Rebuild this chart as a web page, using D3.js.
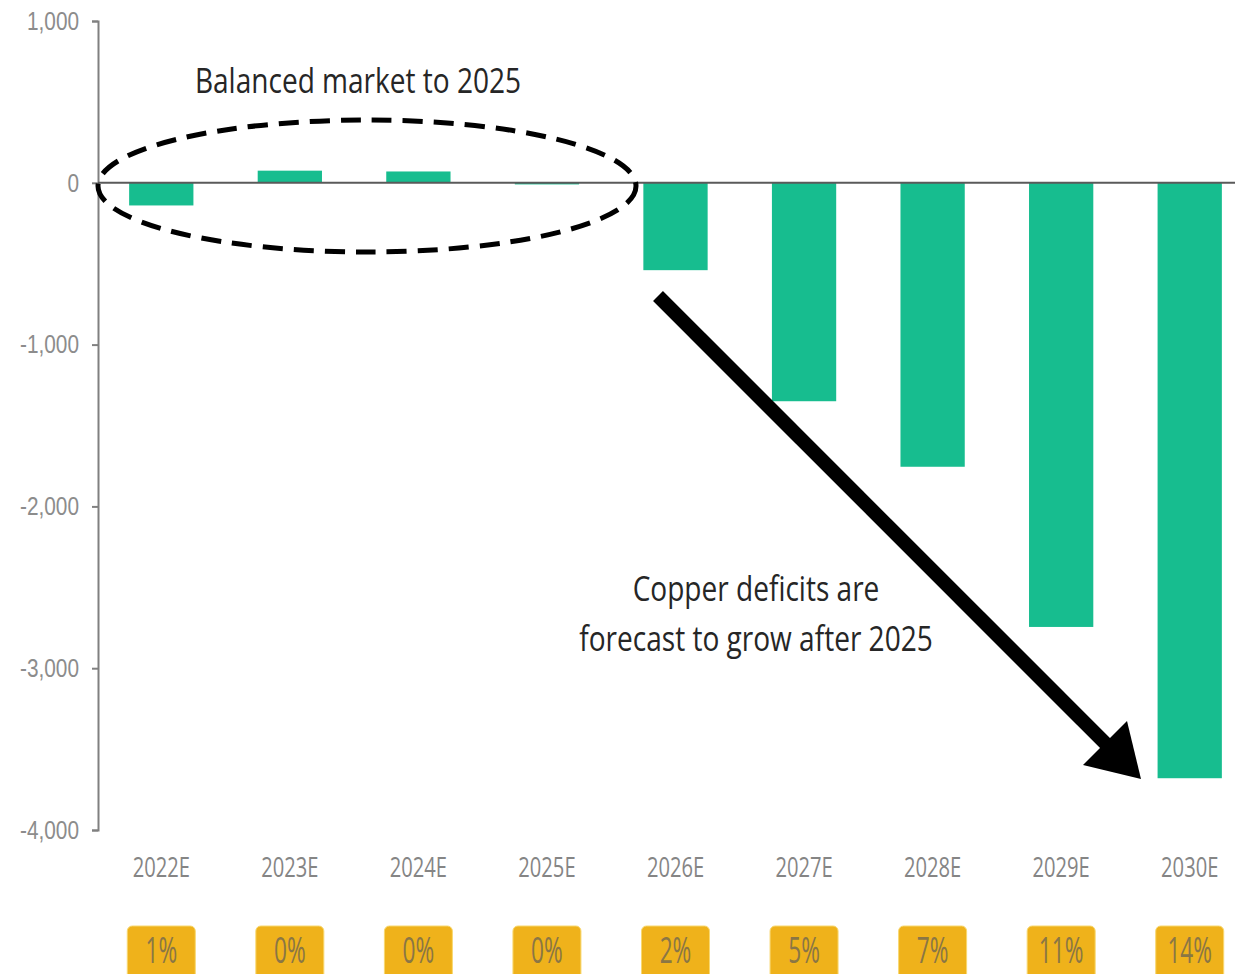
<!DOCTYPE html>
<html>
<head>
<meta charset="utf-8">
<script src="https://cdn.jsdelivr.net/npm/d3@7"></script>
<style>
  body { margin: 0; background: #fff; }
  svg { display: block; font-family: "Open Sans", sans-serif; }
</style>
</head>
<body>
<div id="chart"></div>
<script>
// data (supply / demand balance, kt)
var categories = ["2022E", "2023E", "2024E", "2025E", "2026E", "2027E", "2028E", "2029E", "2030E"];
var balance = [-140, 75, 70, -10, -540, -1350, -1755, -2745, -3680];
var shareLabels = ["1%", "0%", "0%", "0%", "2%", "5%", "7%", "11%", "14%"];
var yTicks = [1000, 0, -1000, -2000, -3000, -4000];

var width = 1235, height = 974;

var svg = d3.select("#chart").append("svg")
    .attr("width", width)
    .attr("height", height);

var x = d3.scaleBand()
    .domain(categories)
    .range([97, 1254])
    .paddingInner(0.5)
    .paddingOuter(0.25);

var y = d3.scaleLinear()
    .domain([-4000, 1000])
    .range([830, 21]);

var fmt = function(d) { return d3.format(",")(d).replace("\u2212", "-"); };

// y axis
var yAxis = svg.append("g")
    .attr("transform", "translate(98,0)")
    .call(d3.axisLeft(y).tickValues(yTicks).tickSize(6).tickPadding(12).tickFormat(fmt));

yAxis.select(".domain").attr("stroke", "#808080").attr("stroke-width", 2);
yAxis.selectAll(".tick line").attr("stroke", "#808080").attr("stroke-width", 2);
yAxis.selectAll(".tick text")
    .attr("fill", "#8c8c8c")
    .style("font-size", "26px")
    .attr("x", -19 / 0.8)
    .attr("transform", "scale(0.8,1)");

// bars
svg.selectAll("rect.bar")
    .data(balance)
    .enter().append("rect")
    .attr("class", "bar")
    .attr("x", function(d, i) { return x(categories[i]); })
    .attr("width", x.bandwidth())
    .attr("y", function(d) { return y(Math.max(0, d)); })
    .attr("height", function(d) { return Math.abs(y(d) - y(0)); })
    .attr("fill", "#17bd8f");

// zero line
svg.append("line")
    .attr("x1", 98).attr("x2", width)
    .attr("y1", y(0)).attr("y2", y(0))
    .attr("stroke", "#5a5a5a")
    .attr("stroke-width", 2);

// category labels
svg.selectAll("text.cat")
    .data(categories)
    .enter().append("text")
    .attr("class", "cat")
    .attr("transform", function(d) { return "translate(" + (x(d) + x.bandwidth() / 2) + ",877) scale(0.72,1)"; })
    .attr("text-anchor", "middle")
    .attr("fill", "#858585")
    .style("font-size", "28px")
    .text(function(d) { return d; });

// percentage boxes
var boxes = svg.selectAll("g.share")
    .data(shareLabels)
    .enter().append("g")
    .attr("class", "share")
    .attr("transform", function(d, i) { return "translate(" + (x(categories[i]) + x.bandwidth() / 2) + ",0)"; });

boxes.append("rect")
    .attr("x", -34).attr("y", 926)
    .attr("width", 68).attr("height", 56)
    .attr("rx", 5)
    .attr("fill", "#efb21b")
    .attr("stroke", "#f8d871")
    .attr("stroke-width", 1);

boxes.append("text")
    .attr("transform", "translate(0,963) scale(0.63,1)")
    .attr("text-anchor", "middle")
    .attr("fill", "#8a7645")
    .style("font-size", "36px")
    .text(function(d) { return d; });

// dashed ellipse round the balanced years
svg.append("ellipse")
    .attr("cx", 367).attr("cy", 186)
    .attr("rx", 269).attr("ry", 66)
    .attr("fill", "none")
    .attr("stroke", "#000")
    .attr("stroke-width", 5)
    .attr("stroke-dasharray", "20,11");

// annotations
svg.append("text")
    .attr("transform", "translate(358,93) scale(0.825,1)")
    .attr("text-anchor", "middle")
    .attr("fill", "#262626")
    .style("font-size", "34px")
    .text("Balanced market to 2025");

svg.append("text")
    .attr("transform", "translate(756,601) scale(0.825,1)")
    .attr("text-anchor", "middle")
    .attr("fill", "#262626")
    .style("font-size", "34px")
    .text("Copper deficits are");

svg.append("text")
    .attr("transform", "translate(756,651) scale(0.825,1)")
    .attr("text-anchor", "middle")
    .attr("fill", "#262626")
    .style("font-size", "34px")
    .text("forecast to grow after 2025");

// arrow
svg.append("line")
    .attr("x1", 658).attr("y1", 296)
    .attr("x2", 1110).attr("y2", 748)
    .attr("stroke", "#000")
    .attr("stroke-width", 14);

svg.append("polygon")
    .attr("points", "1141,779 1083,765 1127,721")
    .attr("fill", "#000");
</script>
</body>
</html>
